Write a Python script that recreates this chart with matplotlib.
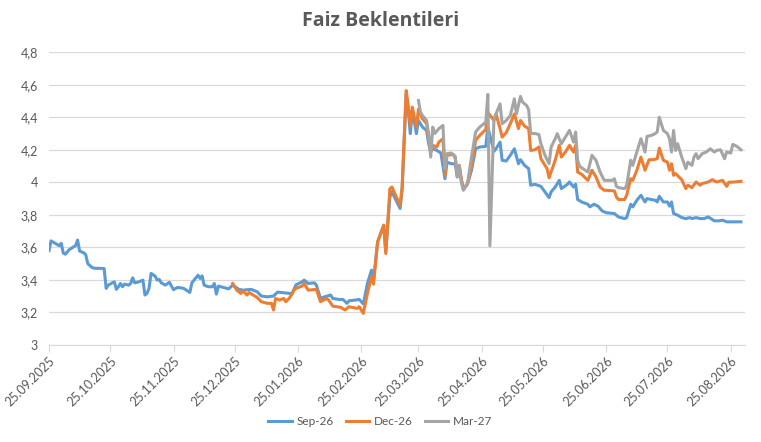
import pandas as pd
import matplotlib
matplotlib.use("Agg")
from matplotlib import pyplot as plt
from matplotlib.ticker import FuncFormatter, MultipleLocator

plt.rcParams['font.family'] = ['Lato', 'DejaVu Sans']

# Sep-26 contract
sep_dates = [
    "2025-09-25", "2025-09-26", "2025-09-28", "2025-09-30", "2025-10-01", "2025-10-02",
    "2025-10-03", "2025-10-05", "2025-10-07", "2025-10-08", "2025-10-09", "2025-10-10",
    "2025-10-12", "2025-10-13", "2025-10-14", "2025-10-16", "2025-10-17", "2025-10-21",
    "2025-10-22", "2025-10-23", "2025-10-24", "2025-10-26", "2025-10-27", "2025-10-28",
    "2025-10-29", "2025-10-30", "2025-10-31", "2025-11-01", "2025-11-03", "2025-11-04",
    "2025-11-05", "2025-11-06", "2025-11-08", "2025-11-10", "2025-11-11", "2025-11-12",
    "2025-11-13", "2025-11-14", "2025-11-16", "2025-11-17", "2025-11-18", "2025-11-19",
    "2025-11-21", "2025-11-23", "2025-11-25", "2025-11-27", "2025-11-30", "2025-12-03",
    "2025-12-04", "2025-12-07", "2025-12-08", "2025-12-09", "2025-12-10", "2025-12-12",
    "2025-12-14", "2025-12-15", "2025-12-16", "2025-12-17", "2025-12-20", "2025-12-22",
    "2025-12-24", "2025-12-27", "2025-12-29", "2026-01-02", "2026-01-05", "2026-01-07",
    "2026-01-10", "2026-01-13", "2026-01-14", "2026-01-15", "2026-01-18", "2026-01-21",
    "2026-01-22", "2026-01-24", "2026-01-27", "2026-01-28", "2026-01-30", "2026-02-02",
    "2026-02-03", "2026-02-05", "2026-02-07", "2026-02-10", "2026-02-11", "2026-02-14",
    "2026-02-16", "2026-02-18", "2026-02-19", "2026-02-22", "2026-02-24", "2026-02-26",
    "2026-02-28", "2026-03-02", "2026-03-03", "2026-03-05", "2026-03-08", "2026-03-09",
    "2026-03-11", "2026-03-12", "2026-03-16", "2026-03-17", "2026-03-19", "2026-03-20",
    "2026-03-21", "2026-03-22", "2026-03-24", "2026-03-25", "2026-03-27", "2026-03-29",
    "2026-03-30", "2026-03-31", "2026-04-01", "2026-04-03", "2026-04-05", "2026-04-07",
    "2026-04-08", "2026-04-10", "2026-04-12", "2026-04-13", "2026-04-14", "2026-04-15",
    "2026-04-16", "2026-04-18", "2026-04-20", "2026-04-22", "2026-04-24", "2026-04-27",
    "2026-04-28", "2026-05-01", "2026-05-02", "2026-05-04", "2026-05-05", "2026-05-07",
    "2026-05-09", "2026-05-11", "2026-05-13", "2026-05-14", "2026-05-16", "2026-05-18",
    "2026-05-19", "2026-05-21", "2026-05-24", "2026-05-26", "2026-05-28", "2026-05-29",
    "2026-05-31", "2026-06-02", "2026-06-03", "2026-06-06", "2026-06-07", "2026-06-09",
    "2026-06-10", "2026-06-11", "2026-06-13", "2026-06-16", "2026-06-17", "2026-06-19",
    "2026-06-21", "2026-06-23", "2026-06-25", "2026-06-29", "2026-07-01", "2026-07-04",
    "2026-07-05", "2026-07-07", "2026-07-08", "2026-07-09", "2026-07-10", "2026-07-12",
    "2026-07-14", "2026-07-15", "2026-07-17", "2026-07-19", "2026-07-20", "2026-07-21",
    "2026-07-23", "2026-07-25", "2026-07-26", "2026-07-27", "2026-07-28", "2026-07-30",
    "2026-08-01", "2026-08-03", "2026-08-05", "2026-08-06", "2026-08-08", "2026-08-10",
    "2026-08-12", "2026-08-14", "2026-08-17", "2026-08-19", "2026-08-21", "2026-08-23",
    "2026-08-26", "2026-08-30",
]
sep_values = [
    3.58, 3.64, 3.625, 3.61, 3.625, 3.565,
    3.558, 3.587, 3.603, 3.61, 3.645, 3.577,
    3.567, 3.554, 3.50, 3.477, 3.472, 3.47,
    3.47, 3.348, 3.368, 3.382, 3.388, 3.342,
    3.358, 3.378, 3.358, 3.374, 3.368, 3.378,
    3.413, 3.382, 3.388, 3.399, 3.307, 3.317,
    3.348, 3.44, 3.423, 3.399, 3.403, 3.382,
    3.368, 3.385, 3.34, 3.354, 3.348, 3.323,
    3.382, 3.429, 3.409, 3.425, 3.368, 3.358,
    3.358, 3.378, 3.313, 3.362, 3.352, 3.345,
    3.368, 3.342, 3.337, 3.342, 3.327, 3.301,
    3.296, 3.301, 3.313, 3.325, 3.321, 3.317,
    3.313, 3.37, 3.388, 3.399, 3.378, 3.382,
    3.368, 3.286, 3.296, 3.307, 3.286, 3.28,
    3.28, 3.256, 3.272, 3.276, 3.28, 3.252,
    3.378, 3.46, 3.40, 3.634, 3.736, 3.572,
    3.91, 3.941, 3.839, 3.951, 4.544, 4.44,
    4.299, 4.442, 4.299, 4.38, 4.339, 4.319,
    4.237, 4.186, 4.206, 4.196, 4.18, 4.022,
    4.124, 4.114, 4.114, 4.033, 4.094, 4.012,
    3.956, 3.99, 4.074, 4.206, 4.217, 4.221,
    4.339, 4.19, 4.206, 4.247, 4.135, 4.131,
    4.166, 4.206, 4.114, 4.139, 4.104, 4.084,
    3.982, 3.988, 3.975, 3.941, 3.906, 3.941,
    3.971, 4.012, 3.961, 3.988, 4.002, 3.971,
    3.988, 3.894, 3.879, 3.865, 3.849, 3.865,
    3.853, 3.824, 3.813, 3.808, 3.787, 3.777,
    3.783, 3.865, 3.849, 3.869, 3.89, 3.92,
    3.879, 3.90, 3.894, 3.89, 3.879, 3.914,
    3.879, 3.879, 3.853, 3.879, 3.808, 3.798,
    3.783, 3.777, 3.783, 3.777, 3.783, 3.777,
    3.777, 3.787, 3.763, 3.763, 3.767, 3.757,
    3.757, 3.757,
]

# Dec-26 contract
dec_dates = [
    "2025-12-24", "2025-12-26", "2025-12-28", "2025-12-29", "2025-12-31", "2026-01-01",
    "2026-01-03", "2026-01-05", "2026-01-07", "2026-01-10", "2026-01-12", "2026-01-13",
    "2026-01-14", "2026-01-16", "2026-01-18", "2026-01-19", "2026-01-21", "2026-01-23",
    "2026-01-24", "2026-01-27", "2026-01-28", "2026-01-30", "2026-02-03", "2026-02-05",
    "2026-02-08", "2026-02-09", "2026-02-11", "2026-02-15", "2026-02-17", "2026-02-19",
    "2026-02-23", "2026-02-24", "2026-02-26", "2026-02-28", "2026-03-02", "2026-03-03",
    "2026-03-05", "2026-03-08", "2026-03-09", "2026-03-11", "2026-03-12", "2026-03-16",
    "2026-03-17", "2026-03-19", "2026-03-20", "2026-03-21", "2026-03-22", "2026-03-24",
    "2026-03-25", "2026-03-26", "2026-03-27", "2026-03-29", "2026-03-30", "2026-03-31",
    "2026-04-01", "2026-04-03", "2026-04-04", "2026-04-06", "2026-04-07", "2026-04-08",
    "2026-04-11", "2026-04-12", "2026-04-13", "2026-04-14", "2026-04-15", "2026-04-16",
    "2026-04-18", "2026-04-20", "2026-04-22", "2026-04-24", "2026-04-27", "2026-04-28",
    "2026-05-01", "2026-05-02", "2026-05-04", "2026-05-05", "2026-05-07", "2026-05-09",
    "2026-05-11", "2026-05-13", "2026-05-14", "2026-05-16", "2026-05-18", "2026-05-19",
    "2026-05-21", "2026-05-23", "2026-05-24", "2026-05-27", "2026-05-28", "2026-05-31",
    "2026-06-02", "2026-06-03", "2026-06-05", "2026-06-07", "2026-06-09", "2026-06-10",
    "2026-06-11", "2026-06-13", "2026-06-16", "2026-06-18", "2026-06-20", "2026-06-22",
    "2026-06-24", "2026-06-25", "2026-06-29", "2026-06-30", "2026-07-01", "2026-07-04",
    "2026-07-05", "2026-07-07", "2026-07-08", "2026-07-10", "2026-07-12", "2026-07-14",
    "2026-07-16", "2026-07-18", "2026-07-20", "2026-07-21", "2026-07-23", "2026-07-25",
    "2026-07-26", "2026-07-27", "2026-07-28", "2026-07-29", "2026-08-01", "2026-08-03",
    "2026-08-04", "2026-08-06", "2026-08-08", "2026-08-10", "2026-08-11", "2026-08-14",
    "2026-08-16", "2026-08-18", "2026-08-21", "2026-08-23", "2026-08-24", "2026-08-27",
    "2026-08-30",
]
dec_values = [
    3.378, 3.337, 3.317, 3.333, 3.307, 3.323,
    3.307, 3.292, 3.266, 3.256, 3.256, 3.215,
    3.286, 3.276, 3.286, 3.266, 3.292, 3.337,
    3.348, 3.362, 3.378, 3.337, 3.342, 3.266,
    3.286, 3.276, 3.239, 3.231, 3.215, 3.235,
    3.225, 3.235, 3.194, 3.317, 3.419, 3.374,
    3.634, 3.736, 3.562, 3.96, 3.971, 3.859,
    3.971, 4.564, 4.47, 4.345, 4.462, 4.339,
    4.45, 4.42, 4.39, 4.36, 4.268, 4.186,
    4.227, 4.217, 4.247, 4.268, 4.043, 4.166,
    4.172, 4.15, 4.053, 4.104, 4.022, 3.961,
    3.99, 4.094, 4.258, 4.288, 4.325, 4.43,
    4.38, 4.42, 4.33, 4.278, 4.305, 4.36,
    4.42, 4.33, 4.38, 4.345, 4.33, 4.196,
    4.20, 4.217, 4.145, 4.084, 4.028, 4.135,
    4.227, 4.155, 4.186, 4.227, 4.186, 4.227,
    4.063, 4.049, 4.012, 4.074, 4.033, 3.971,
    3.951, 3.951, 3.947, 3.91, 3.894, 3.894,
    3.92, 4.022, 4.012, 4.074, 4.155, 4.074,
    4.139, 4.139, 4.145, 4.21, 4.135, 4.124,
    4.074, 4.114, 4.043, 4.053, 4.016, 3.961,
    3.982, 3.967, 4.002, 3.982, 3.992, 4.002,
    4.016, 4.002, 4.012, 3.975, 4.0, 4.002,
    4.006,
]

# Mar-27 contract
mar_dates = [
    "2026-03-25", "2026-03-26", "2026-03-27", "2026-03-29", "2026-03-30", "2026-03-31",
    "2026-04-01", "2026-04-02", "2026-04-04", "2026-04-06", "2026-04-07", "2026-04-08",
    "2026-04-10", "2026-04-12", "2026-04-13", "2026-04-14", "2026-04-15", "2026-04-16",
    "2026-04-18", "2026-04-20", "2026-04-22", "2026-04-24", "2026-04-27", "2026-04-28",
    "2026-04-29", "2026-05-01", "2026-05-02", "2026-05-04", "2026-05-05", "2026-05-07",
    "2026-05-09", "2026-05-11", "2026-05-12", "2026-05-14", "2026-05-15", "2026-05-17",
    "2026-05-18", "2026-05-19", "2026-05-21", "2026-05-23", "2026-05-24", "2026-05-26",
    "2026-05-28", "2026-05-29", "2026-05-31", "2026-06-01", "2026-06-03", "2026-06-05",
    "2026-06-07", "2026-06-09", "2026-06-10", "2026-06-11", "2026-06-12", "2026-06-16",
    "2026-06-18", "2026-06-20", "2026-06-22", "2026-06-24", "2026-06-25", "2026-06-28",
    "2026-06-29", "2026-06-30", "2026-07-01", "2026-07-04", "2026-07-05", "2026-07-07",
    "2026-07-08", "2026-07-10", "2026-07-12", "2026-07-14", "2026-07-15", "2026-07-17",
    "2026-07-19", "2026-07-20", "2026-07-21", "2026-07-23", "2026-07-25", "2026-07-26",
    "2026-07-27", "2026-07-28", "2026-07-29", "2026-07-30", "2026-08-01", "2026-08-03",
    "2026-08-04", "2026-08-06", "2026-08-07", "2026-08-08", "2026-08-09", "2026-08-11",
    "2026-08-13", "2026-08-15", "2026-08-17", "2026-08-18", "2026-08-20", "2026-08-22",
    "2026-08-23", "2026-08-25", "2026-08-26", "2026-08-28", "2026-08-30",
]
mar_values = [
    4.503, 4.43, 4.41, 4.38, 4.299, 4.155,
    4.339, 4.30, 4.33, 4.35, 4.084, 4.176,
    4.18, 4.16, 4.033, 4.104, 4.002, 3.951,
    3.99, 4.155, 4.309, 4.339, 4.37, 4.54,
    3.61, 4.39, 4.42, 4.482, 4.36, 4.38,
    4.41, 4.513, 4.42, 4.528, 4.493, 4.472,
    4.446, 4.299, 4.30, 4.294, 4.237, 4.166,
    4.114, 4.217, 4.268, 4.299, 4.237, 4.278,
    4.319, 4.247, 4.309, 4.135, 4.098, 4.063,
    4.166, 4.135, 4.063, 4.012, 4.012, 4.012,
    4.022, 3.975, 3.967, 3.961, 3.98, 4.135,
    4.104, 4.186, 4.268, 4.186, 4.282, 4.288,
    4.299, 4.31, 4.40, 4.319, 4.299, 4.268,
    4.186, 4.319, 4.196, 4.237, 4.155, 4.084,
    4.124, 4.104, 4.155, 4.176, 4.145, 4.176,
    4.186, 4.206, 4.186, 4.196, 4.20, 4.145,
    4.186, 4.18, 4.233, 4.221, 4.20,
]

tick_dates = ["2025-09-25", "2025-10-25", "2025-11-25", "2025-12-25", "2026-01-25",
              "2026-02-25", "2026-03-25", "2026-04-25", "2026-05-25", "2026-06-25",
              "2026-07-25", "2026-08-25"]

text_col = "#595959"

fig = plt.figure(figsize=(7.61, 4.42), dpi=100)
ax = fig.add_axes([0.0644, 0.2195, 0.9146, 0.6625])

ax.plot(pd.to_datetime(sep_dates), sep_values, color="#5B9BD5", lw=2.2, label="Sep-26")
ax.plot(pd.to_datetime(dec_dates), dec_values, color="#ED7D31", lw=2.2, label="Dec-26")
ax.plot(pd.to_datetime(mar_dates), mar_values, color="#A5A5A5", lw=2.2, label="Mar-27")

ax.set_ylim(3, 4.8)
ax.yaxis.set_major_locator(MultipleLocator(0.2))
ax.yaxis.set_major_formatter(FuncFormatter(lambda v, p: f"{round(v, 1):g}".replace(".", ",")))
ax.set_xlim(pd.Timestamp("2025-09-25"), pd.Timestamp("2026-09-01"))
ticks = pd.to_datetime(tick_dates)
ax.set_xticks(ticks)
ax.set_xticklabels([t.strftime("%d.%m.%Y") for t in ticks], rotation=45, ha="right",
                   rotation_mode="anchor")

ax.grid(axis="y", color="#D9D9D9", lw=0.9)
ax.set_axisbelow(True)
for s in ["top", "right", "left"]:
    ax.spines[s].set_visible(False)
ax.spines["bottom"].set_color("#D9D9D9")
ax.tick_params(axis="y", length=0, labelsize=9, labelcolor=text_col, pad=8)
ax.tick_params(axis="x", length=5, color="#D9D9D9", labelsize=9, labelcolor=text_col, pad=2)

fig.suptitle("Faiz Beklentileri", x=0.5, y=0.975, fontsize=14, fontweight="bold",
             color=text_col, family=["Open Sans", "DejaVu Sans"])
fig.legend(loc="center", bbox_to_anchor=(0.5, 0.047), ncol=3, frameon=False, fontsize=8.5,
           labelcolor=text_col, handlelength=2.0, columnspacing=1.0, handletextpad=0.4)

fig.savefig("out.png", dpi=100)
